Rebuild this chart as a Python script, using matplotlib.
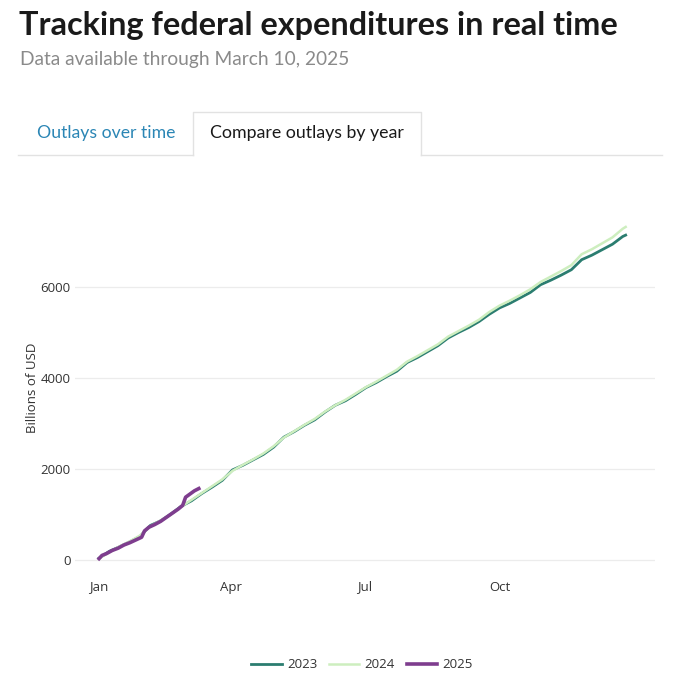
import matplotlib
matplotlib.use('Agg')
import matplotlib.pyplot as plt
from matplotlib.lines import Line2D

# day of year and cumulative outlays (billions of USD)
days = [0, 7, 14, 21, 28, 35, 42, 49, 56, 63, 70, 77, 84, 91, 98, 105, 112, 119,
        126, 133, 140, 147, 154, 161, 168, 175, 182, 189, 196, 203, 210, 217,
        224, 231, 238, 245, 252, 259, 266, 273, 280, 287, 294, 301, 308, 315,
        322, 329, 336, 343, 350, 357, 359]
outlays_2023 = [40, 190, 290, 400, 520, 760, 860, 1010, 1180, 1300, 1460, 1600,
                1750, 1980, 2080, 2200, 2320, 2480, 2700, 2820, 2960, 3080, 3250,
                3400, 3500, 3640, 3790, 3900, 4030, 4150, 4340, 4450, 4580, 4710,
                4880, 5000, 5110, 5240, 5400, 5540, 5640, 5760, 5880, 6050, 6150,
                6260, 6380, 6600, 6700, 6820, 6940, 7110, 7140]
outlays_2024 = [30, 170, 300, 410, 540, 740, 870, 1000, 1170, 1320, 1470, 1620,
                1770, 1960, 2090, 2210, 2340, 2500, 2690, 2830, 2970, 3100, 3260,
                3400, 3520, 3660, 3800, 3920, 4050, 4180, 4360, 4480, 4610, 4740,
                4910, 5030, 5150, 5280, 5450, 5590, 5700, 5820, 5950, 6110, 6230,
                6350, 6480, 6720, 6830, 6960, 7090, 7280, 7320]
days_2025 = [0, 2, 5, 9, 13, 17, 21, 25, 29, 31, 34, 38, 42, 46, 50, 54, 57, 59,
             62, 65, 68]
outlays_2025 = [30, 100, 140, 210, 260, 330, 380, 440, 500, 640, 720, 780, 850,
                940, 1030, 1120, 1200, 1380, 1450, 1520, 1570]

month_ticks = [0, 90, 181, 273]
month_labels = ['Jan', 'Apr', 'Jul', 'Oct']
y_ticks = [0, 2000, 4000, 6000]

c2023 = '#2b7d70'
c2024 = '#cdeebf'
c2025 = '#7e3d8e'

plt.rcParams['font.family'] = ['Open Sans', 'DejaVu Sans']

fig = plt.figure(figsize=(6.85, 6.95), dpi=100)
W, H = 685, 695

def fx(px):
    return px / W

def fy(py):
    return 1 - py / H

fig.text(fx(19), fy(25), 'Tracking federal expenditures in real time',
         fontsize=23.3, fontweight='bold', family='Lato', color='#1a1a1a',
         va='center', ha='left')
fig.text(fx(20), fy(59), 'Data available through March 10, 2025',
         fontsize=13.8, family='Lato', color='#8a8a8a', va='center', ha='left')

# tabs
fig.add_artist(Line2D([fx(18), fx(193)], [fy(155), fy(155)], color='#e2e2e2', lw=1))
fig.add_artist(Line2D([fx(421), fx(662)], [fy(155), fy(155)], color='#e2e2e2', lw=1))
fig.add_artist(Line2D([fx(193), fx(193), fx(421), fx(421)],
                      [fy(155), fy(112), fy(112), fy(155)], color='#e2e2e2', lw=1))
fig.text(fx(106), fy(133), 'Outlays over time', fontsize=12.7, family='Lato',
         color='#2b86b5', ha='center', va='center')
fig.text(fx(307), fy(133), 'Compare outlays by year', fontsize=12.8, family='Lato',
         color='#1a1a1a', ha='center', va='center')

ax = fig.add_axes([fx(75), fy(575), (655 - 75) / W, (575 - 200) / H])
ax.plot(days, outlays_2023, color=c2023, lw=2.0, label='2023')
ax.plot(days, outlays_2024, color=c2024, lw=1.8, label='2024')
ax.plot(days_2025, outlays_2025, color=c2025, lw=2.6, label='2025')

ax.set_xlim(-16.4, 379)
ax.set_ylim(-330, 7912)
ax.set_xticks(month_ticks)
ax.set_xticklabels(month_labels)
ax.set_yticks(y_ticks)
ax.grid(axis='y', color='#ececec', lw=0.9)
ax.set_axisbelow(True)
for s in ax.spines.values():
    s.set_visible(False)
ax.tick_params(axis='both', length=0, labelsize=9.5, colors='#333333')
ax.tick_params(axis='x', pad=4)
ax.tick_params(axis='y', pad=3)
ax.set_ylabel('Billions of USD', fontsize=9.5, color='#333333', labelpad=1)

leg = fig.legend(handles=ax.get_lines(), loc='center', bbox_to_anchor=(fx(362), fy(665)),
                 ncol=3, frameon=False, fontsize=9.5, handlelength=2.3,
                 columnspacing=0.9, handletextpad=0.4)
for t in leg.get_texts():
    t.set_color('#333333')

fig.savefig('out.png', dpi=100)
